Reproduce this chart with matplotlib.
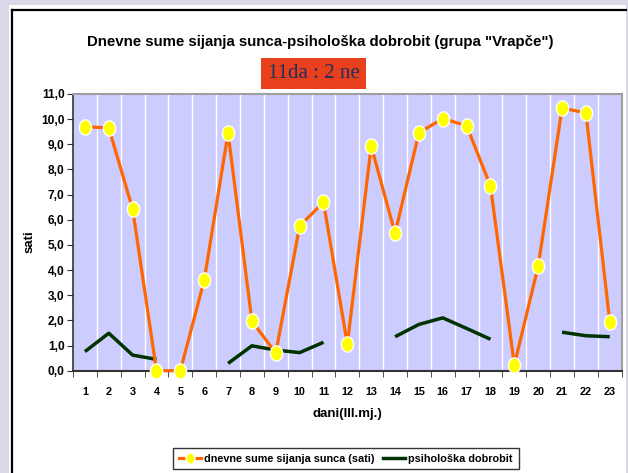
import matplotlib
matplotlib.use("Agg")
import matplotlib.pyplot as plt
import numpy as np
from matplotlib.path import Path
from matplotlib.patches import Rectangle
from matplotlib.lines import Line2D

days = list(range(1, 24))
sunshine = [9.7, 9.65, 6.43, 0.0, 0.0, 3.6, 9.45, 1.97, 0.7, 5.75, 6.7, 1.05, 8.93,
            5.46, 9.46, 10.02, 9.74, 7.34, 0.23, 4.16, 10.44, 10.25, 1.95]
wellbeing = [0.76, 1.49, 0.62, 0.45, None, None, 0.29, 0.99, 0.82, 0.72, 1.13, None, None,
             1.35, 1.84, 2.1, 1.68, 1.25, None, None, 1.53, 1.39, 1.35]
yticks = [0, 1, 2, 3, 4, 5, 6, 7, 8, 9, 10, 11]
ytick_labels = [f"{v},0" for v in yticks]

title = 'Dnevne sume sijanja sunca-psihološka dobrobit (grupa "Vrapče")'
badge = "11da : 2 ne"
xlabel = "dani(III.mj.)"
ylabel = "sati"
leg1 = "dnevne sume sijanja sunca (sati)"
leg2 = "psihološka dobrobit"

FONT = ["Liberation Sans", "DejaVu Sans"]
plt.rcParams["font.family"] = FONT

fig = plt.figure(figsize=(6.28, 4.73), dpi=100)
fig.patch.set_facecolor("#D9D9EA")

W, H = 628, 473
def fx(x): return x / W
def fy(y): return 1 - y / H

# white panel
fig.patches.append(Rectangle((fx(9), 0), fx(626) - fx(9), fy(5), transform=fig.transFigure,
                             facecolor="white", edgecolor="none", zorder=-5))
# black frame lines
fig.lines.append(Line2D([fx(12), fx(12)], [0, fy(10)], transform=fig.transFigure, color="black", lw=1.6, zorder=-4))
fig.lines.append(Line2D([fx(12), fx(626)], [fy(10), fy(10)], transform=fig.transFigure, color="black", lw=1.6, zorder=-4))

ax = fig.add_axes([fx(73), fy(370.7), fx(621.7) - fx(73), fy(94) - fy(370.7)])
ax.set_zorder(1)
ax.set_facecolor("#CCCCFF")
ax.set_xlim(0.5, 23.5)
ax.set_ylim(0, 11)

for b in np.arange(1.5, 23.5, 1.0):
    ax.axvline(b, color="white", lw=1.0, zorder=1)

ell = Path(Path.unit_circle().vertices * np.array([0.8, 1.0]), Path.unit_circle().codes)

ax.plot(days, sunshine, color="#FF6600", lw=2.3, zorder=3, clip_on=False,
        marker=ell, markersize=11, markerfacecolor="#FFFF00", markeredgecolor="white",
        markeredgewidth=1.0)
wb = np.array([np.nan if v is None else v for v in wellbeing], dtype=float)
ax.plot(days, wb, color="#003300", lw=2.5, zorder=2, solid_capstyle="butt")

ax.set_yticks(yticks)
ax.set_yticklabels(ytick_labels, fontsize=8.6, fontweight="bold")
ax.set_xticks(days)
ax.set_xticklabels([str(d) for d in days], fontsize=7.8, fontweight="bold")
ax.set_xticks(np.arange(0.5, 24, 1.0), minor=True)
ax.tick_params(axis="x", which="major", length=0, pad=12)
ax.tick_params(axis="x", which="minor", length=4, direction="out", color="#333333")
ax.tick_params(axis="y", length=4, direction="out", pad=2, color="#333333")

for s in ["top", "right"]:
    ax.spines[s].set_color("#A0A0A0")
    ax.spines[s].set_linewidth(1.5)
ax.spines["bottom"].set_color("#333333")
ax.spines["bottom"].set_linewidth(1.5)
ax.spines["left"].set_color("#333333")
ax.spines["left"].set_linewidth(1.2)

fig.text(fx(30), fy(242), ylabel, rotation=90, ha="center", va="center", fontsize=9.5, fontweight="bold")
fig.text(fx(347), fy(414), xlabel, ha="center", va="center", fontsize=9.5, fontweight="bold")

fig.text(fx(320), fy(42), title, ha="center", va="center", fontsize=10.8, fontweight="bold")
fig.text(fx(313.5), fy(73.5), badge, ha="center", va="center", fontsize=15,
         family=["Liberation Serif", "DejaVu Serif"], color="#1F2F5F",
         bbox=dict(boxstyle="square,pad=0.3", facecolor="#E8401C", edgecolor="none"))

h1 = Line2D([], [], color="#FF6600", lw=2.3, marker=ell, markersize=8,
            markerfacecolor="#FFFF00", markeredgecolor="white")
h2 = Line2D([], [], color="#003300", lw=2.5)
leg = fig.legend([h1, h2], [leg1, leg2], loc="center", bbox_to_anchor=(fx(346), fy(458.5)),
                 ncol=2, frameon=True, fancybox=False, prop=dict(size=7.8, weight="bold"),
                 handlelength=2.0, handletextpad=0.3, columnspacing=0.8, borderpad=0.55)
leg.get_frame().set_edgecolor("black")
leg.get_frame().set_linewidth(1.0)

fig.savefig("out.png", dpi=100, facecolor=fig.get_facecolor())
